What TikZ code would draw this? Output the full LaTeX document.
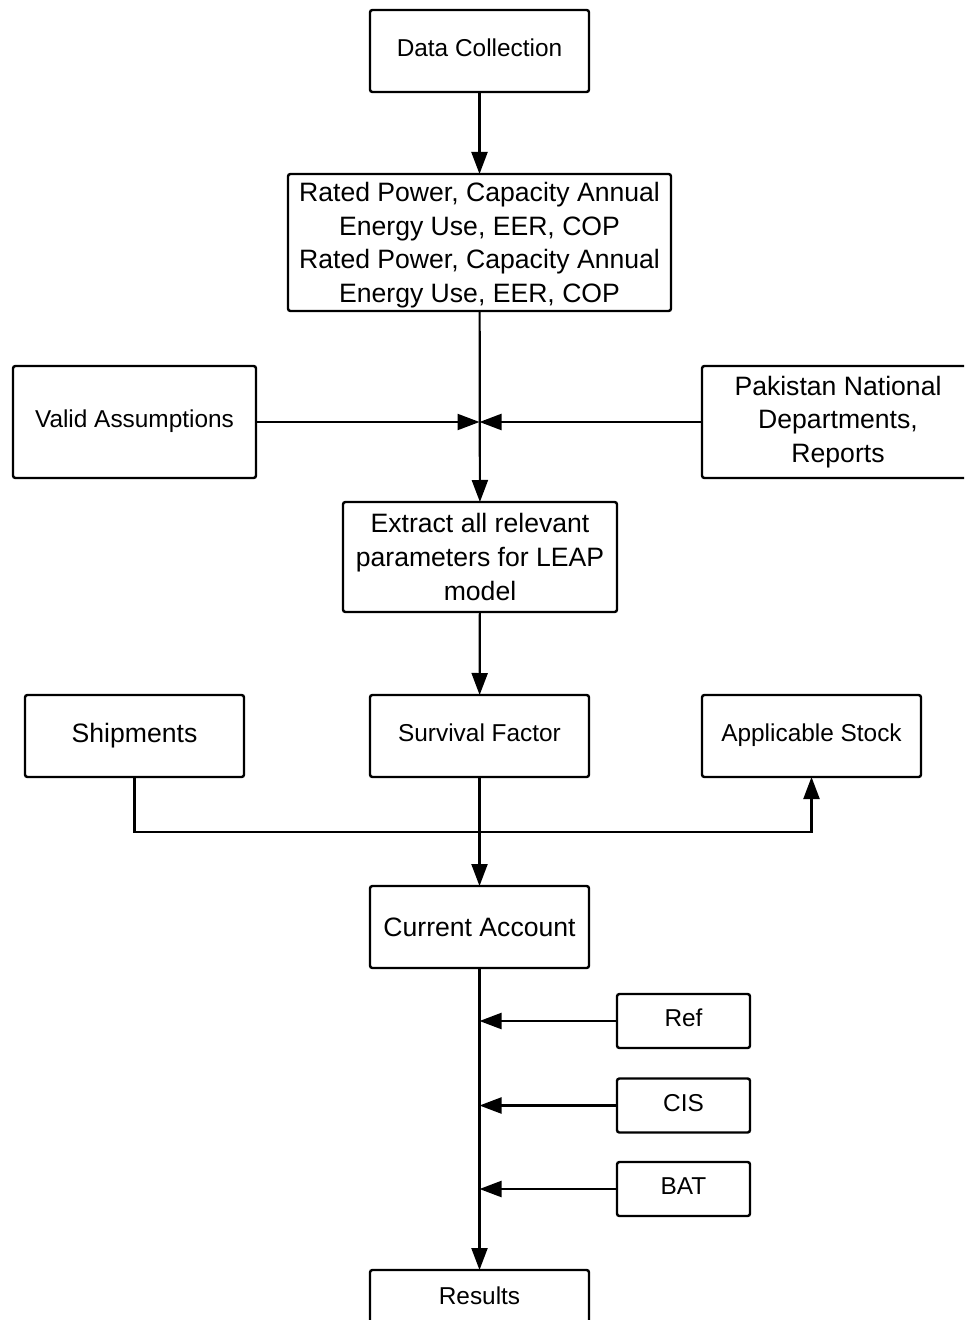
\documentclass[tikz,border=0pt]{standalone}
\usepackage{fontspec}
\setmainfont{Liberation Sans}
\usetikzlibrary{arrows.meta,positioning}

\tikzset{
  box/.style={draw, line width=1.2pt, rounded corners=1.2pt, align=center, inner sep=0pt, outer sep=0pt},
  bigtext/.style={font=\fontsize{13.3}{16.8}\selectfont},
  smalltext/.style={font=\fontsize{12.2}{15}\selectfont, text depth=3pt},
  wide/.style={minimum width=109.5pt, minimum height=41pt},
  scen/.style={minimum width=66.5pt, minimum height=27pt},
}

\begin{document}
\begin{tikzpicture}[x=0.5pt, y=-0.5pt, ->, >={Triangle[length=11pt,width=8pt]}, line width=1.1pt]
	\useasboundingbox (0,0) rectangle (964,1320);
	\clip (0,0) rectangle (964,1320);

	% main column
	\node[box,smalltext,wide] (dc) at (479.5,51) {Data Collection};
	\node[box,bigtext,text depth=0pt,minimum width=191.5pt,minimum height=68.5pt] (rp) at (479.5,242.5)
		{Rated Power, Capacity Annual\\Energy Use, EER, COP\\Rated Power, Capacity Annual\\Energy Use, EER, COP};
	\node[box,smalltext,minimum width=121.5pt,minimum height=56pt] (va) at (134.5,422) {Valid Assumptions};
	\node[box,bigtext,minimum width=136pt,minimum height=56pt] (pk) at (838,422)
		{Pakistan National\\Departments,\\Reports};
	\node[box,bigtext,minimum width=137pt,minimum height=55pt] (ex) at (480,557)
		{Extract all relevant\\parameters for LEAP\\model};

	% stock inputs
	\node[box,bigtext,wide] (sh) at (134.5,736) {Shipments};
	\node[box,smalltext,wide] (sf) at (479.5,736) {Survival Factor};
	\node[box,smalltext,wide] (as) at (811.5,736) {Applicable Stock};
	\node[box,bigtext,wide] (ca) at (479.5,927) {Current Account};

	% scenarios
	\node[box,smalltext,scen] (ref) at (683.5,1021) {Ref};
	\node[box,smalltext,scen] (cis) at (683.5,1105.5) {CIS};
	\node[box,smalltext,scen] (bat) at (683.5,1189) {BAT};
	\node[box,smalltext,minimum width=109.5pt,minimum height=29pt] (res) at (479.5,1299) {Results};

	\coordinate (j1) at (479.5,422);
	\coordinate (bus) at (811.5,832);

	\draw (dc) -- (rp);
	\draw (rp) -- (ex);
	\draw (va) -- (j1);
	\draw (pk) -- (j1);
	\draw (ex) -- (sf);
	\draw (sf) -- (ca);
	\draw (sh.south) |- (bus) -- (as.south);
	\draw (ca) -- (res);
	\foreach \s in {ref,cis,bat}
		\draw (\s) -- (\s -| ca);
\end{tikzpicture}
\end{document}
